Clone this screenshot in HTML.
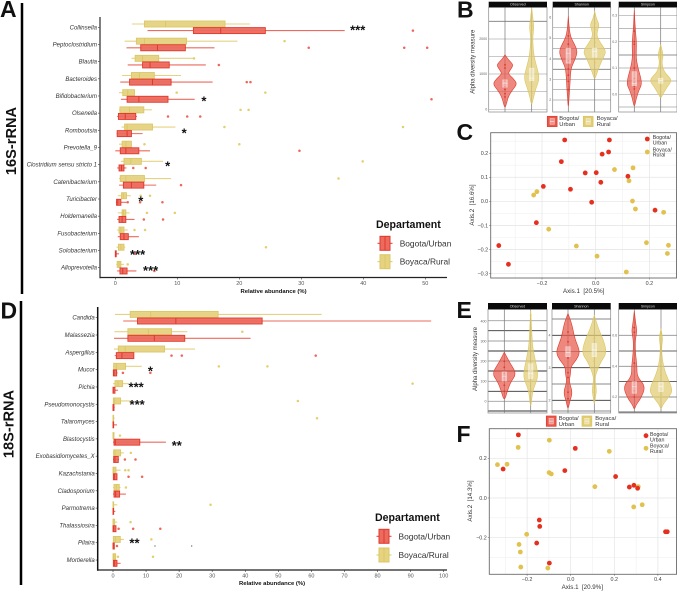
<!DOCTYPE html>
<html lang="en">
<head>
<meta charset="utf-8">
<title>Microbiome abundance and diversity figure</title>
<style>
html,body{margin:0;padding:0;background:#fff;width:677px;height:591px;overflow:hidden}
svg{display:block;font-family:"Liberation Sans",sans-serif}
text{fill:#333}
</style>
</head>
<body>
<svg id="fig" width="677" height="591" viewBox="0 0 677 591" xmlns="http://www.w3.org/2000/svg">
  <rect x="0" y="0" width="677" height="591" fill="#fff"/>
  <text x="0" y="17" font-size="23" font-weight="700" style="fill:#111">A</text>
  <text x="457" y="17.3" font-size="23" font-weight="700" style="fill:#111">B</text>
  <text x="456.5" y="140" font-size="23" font-weight="700" style="fill:#111">C</text>
  <text x="0.5" y="318.5" font-size="23" font-weight="700" style="fill:#111">D</text>
  <text x="456.5" y="318" font-size="23" font-weight="700" style="fill:#111">E</text>
  <text x="456.5" y="442" font-size="23" font-weight="700" style="fill:#111">F</text>
  <line x1="22" y1="3" x2="22" y2="294" stroke="#000" stroke-width="2.5"/>
  <line x1="21" y1="301" x2="21" y2="585" stroke="#000" stroke-width="2.5"/>
  <text transform="translate(16,141) rotate(-90)" text-anchor="middle" font-size="14.6" font-weight="700" style="fill:#111">16S-rRNA</text>
  <text transform="translate(13.5,424) rotate(-90)" text-anchor="middle" font-size="14.6" font-weight="700" style="fill:#111">18S-rRNA</text>
  <text x="273.5" y="293" text-anchor="middle" font-size="5.9" font-weight="700" style="fill:#111">Relative abundance (%)</text>
  <text x="272" y="585" text-anchor="middle" font-size="5.9" font-weight="700" style="fill:#111">Relative abundance (%)</text>
  <text x="376" y="228" font-size="10.6" font-weight="700" style="fill:#111">Departament</text>
  <text x="375" y="521" font-size="10.6" font-weight="700" style="fill:#111">Departament</text>
  <text transform="translate(474.5,61.7) rotate(-90)" text-anchor="middle" font-size="6">Alpha diversity measure</text>
  <text transform="translate(477,359) rotate(-90)" text-anchor="middle" font-size="6">Alpha diversity measure</text>
  <text x="583.7" y="293" text-anchor="middle" font-size="6.2" xml:space="preserve">Axis.1  [20.5%]</text>
  <text transform="translate(473.8,205) rotate(-90)" text-anchor="middle" font-size="6.2" xml:space="preserve">Axis.2  [16.6%]</text>
  <text x="582.3" y="589" text-anchor="middle" font-size="6.2" xml:space="preserve">Axis.1  [20.9%]</text>
  <text transform="translate(472,501) rotate(-90)" text-anchor="middle" font-size="6.2" xml:space="preserve">Axis.2  [14.3%]</text>
</svg>
<script>
/* ---------- Panel A data (16S, relative abundance %) ---------- */
const aCategories = ["Collinsella","Peptoclostridium","Blautia","Bacteroides","Bifidobacterium","Olsenella","Romboutsia","Prevotella_9","Clostridium sensu stricto 1","Catenibacterium","Turicibacter","Holdemanella","Fusobacterium","Solobacterium","Alloprevotella"];
const aTicks = [0,10,20,30,40,50];
/* each row: whisker low, q1, median, q3, whisker high */
const aUrbanStats = [[5.2,12.6,17,24.2,37],[1.8,4.1,6.8,11.3,16],[2,4.4,5.6,8.7,14.6],[0.8,2.3,6,9,15.7],[0.9,1.9,3.8,8.5,12.8],[0.3,0.5,1.6,3.3,3.5],[0.2,0.3,1.9,2.6,4.4],[0,0.8,1.7,3.8,5.6],[0.3,0.6,1,1.4,1.8],[0.6,1.3,2.6,4.6,6.6],[0.1,0.2,0.4,0.9,1.8],[0.3,0.6,1.1,1.7,3.1],[0.4,0.8,1.4,2.1,3.8],[0,0,0.05,0.15,0.6],[0.3,0.75,1.2,1.9,3.4]];
const aRuralStats = [[2.7,4.7,8.1,17.7,21.7],[1.5,3.4,4.7,11.5,19.7],[2.6,3.2,4.4,7,12.7],[1.1,2.6,3.9,6.3,10.6],[0.6,1.2,2,3.1,3.1],[0.6,0.75,2.3,4.6,5.9],[1,1.5,1.9,6,9.7],[0.6,1.1,1.7,2.6,2.6],[0.9,1.4,2.5,4.2,7.7],[0.6,0.8,1.7,4.7,9],[0.4,1,1.3,1.8,2.5],[0.4,1.1,1.3,1.7,2.3],[0.3,0.6,0.9,1.4,2],[0.2,0.5,0.9,1.4,1.6],[0.15,0.3,0.6,0.9,1.4]];
const aUrbanOutliers = [[48],[31.2,46.6,50.3],[16.7],[21.2,21.8],[51],[8.5,11.6,13.7],[],[29.7],[2.9,4.9],[10.6],[2,4,7.6],[4.6,7.7],[],[3.2],[6.3]];
const aRuralOutliers = [[],[27.3],[12.7],[],[9.9,24.2],[20.2,21.5],[17.6,46.4],[4.7,20],[39.9],[36],[4.1,5.6],[5.1,9.6],[3.1,4.8],[24.3],[2]];
const aStarLabels = ["***","*","*","*","*","***","***"];
const aStarRows = [0,4,6,8,10,13,14];
const aStarValues = [39.1,14.3,11.1,8.45,4.1,3.6,5.7];
const aStarSides = [0,0.6,0,-0.5,-0.3,0.4,0];

/* ---------- Panel D data (18S, relative abundance %) ---------- */
const dCategories = ["Candida","Malassezia","Aspergillus","Mucor","Pichia","Pseudomonocystis","Talaromyces","Blastocystis","Exobasidiomycetes_X","Kazachstania","Cladosporium","Parmotrema","Thalassiosira","Pilaira","Mortierella"];
const dTicks = [0,10,20,30,40,50,60,70,80,90,100];
const dUrbanStats = [[3.1,7.4,19,45.1,96.2],[0.3,4.5,12.5,21.7,41.6],[0.5,1,2.7,6.3,6.3],[0,0.1,0.3,1.1,1.4],[0,0,0.1,0.6,1.5],[0,0,0,0.3,0.5],[0,0,0.1,0.2,1.2],[0,0.3,0.7,8.1,16],[0,0.2,0.6,1.6,1.8],[0,0.1,0.4,1.2,1.2],[0,0.3,0.8,2,3.9],[0,0,0.1,0.2,0.7],[0,0,0.2,0.9,0.9],[0,0,0.1,0.4,0.4],[0,0.1,0.5,1.2,2.3]];
const dRuralStats = [[0.6,5.2,11.4,31.8,63.1],[0.4,4.5,10.7,17.7,22.5],[0.3,1.6,3.7,15.6,24.8],[0,0.2,1,3.8,8.7],[0,0.6,1.5,2.9,4.8],[0,0.1,0.5,2.3,5.4],[0,0,0.1,0.2,0.5],[0,0,0.1,0.3,0.4],[0,0.2,0.6,2.3,3.3],[0,0,0.2,0.9,2.3],[0,0.3,1,1.9,2.3],[0,0,0.1,0.2,1.3],[0,0,0.1,0.5,1.3],[0,0.1,0.7,2.2,3.3],[0,0,0.3,0.8,0.8]];
const dUrbanOutliers = [[],[],[17.7,20.8,61.3],[3,11.3],[],[],[],[],[3.6,6.8],[4.7,8.8],[],[],[1.7,6.1,14.3],[1.2],[]];
const dRuralOutliers = [[],[39.1],[],[32,46.7],[90.6],[55.9],[61.7],[2.1],[5.4],[3.7,4.7],[3.9],[29.5],[5.3],[11.6],[1.5,12.1]];
const dStrayValues = [12.7,23.8];
const dStarLabels = ["*","***","***","**","**"];
const dStarRows = [3,4,5,7,13];
const dStarValues = [11.3,7,7.3,19.3,6.5];
const dStarSides = [-0.5,-0.9,-0.7,1.2,-0.8];

/* ---------- Panel B violins (16S alpha diversity) ---------- */
const bObsTicks = [0,1000,2000];
const bShaTicks = [2,3,4,5,6];
const bSimTicks = [0,0.1,0.2,0.3];
const bObsUrbanLevels = [1545,1403,1260,1118,1005,882,720,550,360,170,28];
const bObsUrbanDensity = [0,0.27,0.7,0.43,0.24,0.65,1,0.6,0.27,0.13,0];
const bObsUrbanBox = [626,739,834];
const bObsUrbanPoints = [1260,1170,800,720,640,560,440,350];
const bObsRuralLevels = [2872,2540,2303,2066,1782,1498,1213,882,597,360,95];
const bObsRuralDensity = [0,0.11,0.19,0.08,0.11,0.19,0.4,0.65,0.35,0.16,0];
const bObsRuralBox = [806,882,1166];
const bObsRuralPoints = [2370,2240,1500,1120,880,800,650,440];
const bShaUrbanLevels = [6.05,5.4,5,4.75,4.35,3.95,3.54,3.05,2.5,2,1.6];
const bShaUrbanDensity = [0,0.08,0.22,0.46,0.76,0.54,0.22,0.16,0.11,0.05,0];
const bShaUrbanBox = [3.78,4.27,4.51];
const bShaUrbanPoints = [5.1,4.7,4.3,3.9,3.5,3.2,2.9,2.5];
const bShaRuralLevels = [6.3,5.97,5.64,5.4,5.08,4.75,4.35,4.03,3.54,3.21,3];
const bShaRuralDensity = [0,0.11,0.38,0.24,0.16,0.49,0.95,0.68,0.32,0.14,0];
const bShaRuralBox = [4.07,4.35,4.51];
const bShaRuralPoints = [5.7,5.4,4.8,4.5,4.3,4,3.8,3.4];
const bSimUrbanLevels = [0.32,0.245,0.195,0.143,0.105,0.042,0.016,-0.015,-0.053];
const bSimUrbanDensity = [0,0.08,0.19,0.14,0.27,0.65,0.38,0.16,0];
const bSimUrbanBox = [0.032,0.042,0.086];
const bSimUrbanPoints = [0.24,0.2,0.19,0.1,0.06,0.045,0.03,0.02];
const bSimRuralLevels = [0.188,0.15,0.124,0.086,0.054,0.029,-0.003,-0.015];
const bSimRuralDensity = [0,0.24,0.08,0.24,0.95,0.54,0.14,0];
const bSimRuralBox = [0.042,0.052,0.061];
const bSimRuralPoints = [0.16,0.15,0.14,0.07,0.055,0.045,0.03,0.01];

/* ---------- Panel E violins (18S alpha diversity) ---------- */
const eObsTicks = [0,100,200,300,400];
const eShaTicks = [2,3,4];
const eSimTicks = [0.2,0.4,0.6];
const eObsUrbanLevels = [246,197,139,98,56,-2];
const eObsUrbanDensity = [0,0.4,1,0.54,0.27,0];
const eObsUrbanBox = [101,122,147];
const eObsUrbanPoints = [200,170,140,120,100,80,50];
const eObsRuralLevels = [453,362,279,221,131,89,48,-43];
const eObsRuralDensity = [0,0.08,0.14,0.32,0.62,0.4,0.14,0];
const eObsRuralBox = [114,139,188];
const eObsRuralPoints = [430,330,190,150,130,100,60];
const eShaUrbanLevels = [4.67,4.36,3.9,3.49,3.24,3.03,2.83,2.57,2.25,1.96,1.7];
const eShaUrbanDensity = [0,0.32,0.54,1,0.68,0.22,0.22,0.08,0.38,0.14,0];
const eShaUrbanBox = [3.34,3.47,3.65];
const eShaUrbanPoints = [4.1,3.8,3.5,3.3,2.85,2.7,2.25,2.05];
const eShaRuralLevels = [4.62,4.21,3.8,3.44,3.19,2.83,2.63,2.32,2.06,1.86];
const eShaRuralDensity = [0,0.32,0.81,1,0.54,0.14,0.05,0.19,0.08,0];
const eShaRuralBox = [3.34,3.55,3.75];
const eShaRuralPoints = [3.9,3.6,3.4,3.2,2.4,2.25];
const eSimUrbanLevels = [0.757,0.68,0.626,0.572,0.496,0.398,0.333,0.268,0.192,0.148,0.116];
const eSimUrbanDensity = [0,0.11,0.22,0.08,0.08,0.22,0.22,0.92,0.54,0.14,0];
const eSimUrbanBox = [0.224,0.267,0.3];
const eSimUrbanPoints = [0.65,0.62,0.42,0.3,0.27,0.24,0.2];
const eSimRuralLevels = [0.644,0.578,0.535,0.457,0.359,0.248,0.204,0.15,0.116];
const eSimRuralDensity = [0,0.16,0.05,0.08,0.32,0.97,0.68,0.14,0];
const eSimRuralBox = [0.235,0.267,0.296];
const eSimRuralPoints = [0.6,0.58,0.34,0.28,0.25,0.2];

/* ---------- Panel C ordination (16S) ---------- */
const cXTicks = [-0.2,0,0.2];
const cYTicks = [-0.3,-0.2,-0.1,0,0.1,0.2];
const cUrbanX = [-0.1155,0.051,0.024,0.048,-0.128,-0.039,0.002,0.019,0.12,-0.195,-0.094,-0.015,0.221,-0.221,-0.361,-0.325];
const cUrbanY = [0.255,0.255,0.196,0.205,0.165,0.118,0.119,0.079,0.104,0.062,0.05,-0.004,-0.037,-0.089,-0.184,-0.262];
const cRuralX = [0.07,0.139,0.124,-0.219,-0.231,0.137,0.148,0.253,-0.175,-0.072,0.005,0.114,0.189,0.271,0.267];
const cRuralY = [0.132,0.139,0.085,0.04,0.026,0.001,-0.032,-0.046,-0.116,-0.186,-0.228,-0.294,-0.172,-0.183,-0.217];

/* ---------- Panel F ordination (18S) ---------- */
const fXTicks = [-0.2,0,0.2,0.4];
const fYTicks = [-0.2,0,0.2];
const fUrbanX = [-0.24,0.021,-0.31,-0.027,0.206,0.269,0.29,0.307,-0.144,-0.142,-0.156,-0.098,0.435,0.443];
const fUrbanY = [0.318,0.25,0.146,0.138,0.108,0.055,0.064,0.049,-0.111,-0.143,-0.227,-0.328,-0.17,-0.17];
const fRuralX = [-0.098,-0.241,0.177,-0.336,-0.292,-0.099,-0.089,0.111,0.31,0.328,0.289,-0.202,-0.237,-0.231,-0.229,-0.105];
const fRuralY = [0.291,0.255,0.235,0.168,0.17,0.128,0.121,0.057,0.057,-0.034,-0.045,-0.183,-0.234,-0.272,-0.348,-0.353];

/* ---------- helpers ---------- */
const SVGNS = "http://www.w3.org/2000/svg";
const fig = document.getElementById("fig");
const RED = "#e0392c", RED_FILL = "#ec6a5e", YEL = "#dcc766", YEL_FILL = "#e5d382";

function mk(tag, attrs, parent, txt) {
  const n = document.createElementNS(SVGNS, tag);
  for (const k in attrs) n.setAttribute(k, attrs[k]);
  if (txt !== undefined) n.textContent = txt;
  (parent || fig).appendChild(n);
  return n;
}
function linear(d0, d1, r0, r1) {
  return v => r0 + (v - d0) * (r1 - r0) / (d1 - d0);
}
function slug(s) {
  return s.toLowerCase().replace(/[^a-z0-9]+/g, "-").replace(/^-|-$/g, "");
}

/* ---------- horizontal box plots (A and D) ---------- */
function drawBoxGroup(g, cat, y, stats, outliers, stroke, fill, group, xs) {
  const lo = xs(stats[0]), q1 = xs(stats[1]), med = xs(stats[2]), q3 = xs(stats[3]), hi = xs(stats[4]);
  const w = mk("line", {x1: lo, x2: hi, y1: y, y2: y, stroke: fill, "stroke-width": 1.1}, g);
  
  
  const b = mk("rect", {x: q1, y: y - 3, width: Math.max(q3 - q1, 0.6), height: 6, fill: fill, stroke: stroke, "stroke-width": 0.9, "fill-opacity": 0.95}, g);
  
  
  const m = mk("line", {x1: med, x2: med, y1: y - 3, y2: y + 3, stroke: stroke, "stroke-width": 1}, g);
  
  
  outliers.forEach(v => {
    const c = mk("circle", {cx: xs(v), cy: y, r: 1.25, fill: group === "urban" ? "#ee6558" : "#e3cf6e"}, g);
    
    
  });
}
function drawBoxPanel(o) {
  const g = mk("g", {}, fig);
  
  
  const xs = linear(0, 10, o.x0, o.x10);
  const ys = i => o.yTop + i * o.rowStep;
  o.categories.forEach((cat, i) => {
    const y = ys(i);
    drawBoxGroup(g, cat, y - 3.3, o.rural[i], o.ruralOut[i], YEL, YEL_FILL, "rural", xs);
    drawBoxGroup(g, cat, y + 3.3, o.urban[i], o.urbanOut[i], RED, RED_FILL, "urban", xs);
    const lab = mk("text", {x: o.axisX - 3, y: y + 2, "text-anchor": "end", "font-size": 6, "font-style": "italic"}, g, cat);
    
    
    const t = mk("line", {x1: o.axisX - 2, x2: o.axisX, y1: y, y2: y, stroke: "#333", "stroke-width": 0.6}, g);
    
    
  });
  const ya = mk("line", {x1: o.axisX, x2: o.axisX, y1: o.axisTop, y2: o.axisBottom + 0.75, stroke: o.yColor, "stroke-width": 1.5}, g);
  
  
  const xa = mk("line", {x1: o.axisX, x2: 447, y1: o.axisBottom, y2: o.axisBottom, stroke: "#222", "stroke-width": 1.3}, g);
  
  
  o.ticks.forEach(v => {
    const t = mk("line", {x1: xs(v), x2: xs(v), y1: o.axisBottom, y2: o.axisBottom + 2, stroke: "#333", "stroke-width": 0.6}, g);
    
    
    const l = mk("text", {x: xs(v), y: o.axisBottom + 7.5, "text-anchor": "middle", "font-size": 5.5, style: "fill:#555"}, g, String(v));
    
    
  });
  o.starLabels.forEach((s, i) => {
    const st = mk("text", {x: xs(o.starValues[i]), y: ys(o.starRows[i]) + o.starSides[i] * 3.3 + 7.3, "text-anchor": "middle", "font-size": 13, "font-weight": 700, style: "fill:#111"}, g, s);
    
    
  });
  return {xs, ys, g};
}
drawBoxPanel({name: "abundance-chart-16s", categories: aCategories, urban: aUrbanStats, rural: aRuralStats, urbanOut: aUrbanOutliers, ruralOut: aRuralOutliers, ticks: aTicks, starLabels: aStarLabels, starRows: aStarRows, starValues: aStarValues, starSides: aStarSides, x0: 115.3, x10: 177.3, yTop: 27.3, rowStep: 17.17, axisX: 100, axisTop: 17, axisBottom: 277.5, yColor: "#555"});
const dInfo = drawBoxPanel({name: "abundance-chart-18s", categories: dCategories, urban: dUrbanStats, rural: dRuralStats, urbanOut: dUrbanOutliers, ruralOut: dRuralOutliers, ticks: dTicks, starLabels: dStarLabels, starRows: dStarRows, starValues: dStarValues, starSides: dStarSides, x0: 113, x10: 146.07, yTop: 317.7, rowStep: 17.31, axisX: 97.7, axisTop: 307, axisBottom: 570, yColor: "#111"});
dStrayValues.forEach(v => {
  const c = mk("circle", {cx: dInfo.xs(v), cy: dInfo.ys(13) + 3.3, r: 0.6, fill: "#444"}, dInfo.g);
  
  
});

/* ---------- box legends ---------- */
function drawBoxKey(name, cx, cy, stroke, fill, label, textX) {
  const k = mk("g", {}, fig);
  
  
  mk("line", {x1: cx - 7.5, x2: cx + 7.5, y1: cy, y2: cy, stroke: stroke, "stroke-width": 1}, k);
  mk("rect", {x: cx - 5, y: cy - 7, width: 10, height: 14, fill: fill, stroke: stroke, "stroke-width": 1}, k);
  mk("line", {x1: cx, x2: cx, y1: cy - 7, y2: cy + 7, stroke: stroke, "stroke-width": 1}, k);
  mk("text", {x: textX, y: cy + 3, "font-size": 8.4}, k, label);
}
drawBoxKey("legend-entry-urban-16s", 385, 243.3, RED, RED_FILL, "Bogota/Urban", 399.7);
drawBoxKey("legend-entry-rural-16s", 385, 261.7, YEL, YEL_FILL, "Boyaca/Rural", 399.7);
drawBoxKey("legend-entry-urban-18s", 384, 536.3, RED, RED_FILL, "Bogota/Urban", 398.5);
drawBoxKey("legend-entry-rural-18s", 384, 555, YEL, YEL_FILL, "Boyaca/Rural", 398.5);

/* ---------- violin panels (B and E) ---------- */
function smoothClosed(pts) {
  let d = "M" + pts[0][0] + " " + pts[0][1];
  for (let i = 1; i < pts.length - 1; i++) {
    const mx = (pts[i][0] + pts[i + 1][0]) / 2;
    const my = (pts[i][1] + pts[i + 1][1]) / 2;
    d += "Q" + pts[i][0] + " " + pts[i][1] + " " + mx + " " + my;
  }
  const last = pts[pts.length - 1];
  return d + "L" + last[0] + " " + last[1] + "Z";
}
function drawViolin(g, cx, ys, levels, density, box, points, stroke, fill, maxHalf, name) {
  const right = levels.map((v, i) => [cx + density[i] * maxHalf, ys(v)]);
  const left = levels.map((v, i) => [cx - density[i] * maxHalf, ys(v)]).reverse();
  const outline = right.concat(left.slice(1));
  const p = mk("path", {d: smoothClosed(outline), fill: fill, "fill-opacity": 0.72, stroke: stroke, "stroke-width": 0.6, "stroke-linejoin": "round"}, g);
  
  
  points.forEach(v => {
    const c = mk("circle", {cx: cx, cy: ys(v), r: 0.9, fill: stroke}, g);
    
    
  });
  const b = mk("rect", {x: cx - 2.3, y: ys(box[2]), width: 4.6, height: ys(box[0]) - ys(box[2]), fill: "#fff", "fill-opacity": 0.45, stroke: "#fff", "stroke-opacity": 0.6, "stroke-width": 0.5}, g);
  
  
  const m = mk("line", {x1: cx - 2.3, x2: cx + 2.3, y1: ys(box[1]), y2: ys(box[1]), stroke: "#fff", "stroke-opacity": 0.8, "stroke-width": 0.6}, g);
  
  
}
function drawFacet(o) {
  const g = mk("g", {}, fig);
  
  
  const ys = linear(o.d0, o.d1, o.r0, o.r1);
  o.grid.forEach(line => {
    const y = line[0];
    const h = mk("line", {x1: o.x0, x2: o.x1, y1: y, y2: y, stroke: line[1], "stroke-width": line[2]}, g);
    
    
  });
  [o.cx1, o.cx2].forEach(cx => {
    const v = mk("line", {x1: cx, x2: cx, y1: o.top, y2: o.bottom, stroke: "#777", "stroke-width": 0.7}, g);
    
    
  });
  const br = mk("rect", {x: o.x0, y: o.top, width: o.x1 - o.x0, height: o.bottom - o.top, fill: "none", stroke: "#888", "stroke-width": 0.7}, g);
  
  
  const s = mk("rect", {x: o.x0, y: o.stripTop, width: o.x1 - o.x0, height: o.top - o.stripTop, fill: "#0a0a0a"}, g);
  
  
  const st = mk("text", {x: (o.x0 + o.x1) / 2, y: (o.top + o.stripTop) / 2 + 1.2, "text-anchor": "middle", "font-size": 3.6, style: "fill:#ddd"}, g, o.title);
  
  
  o.ticks.forEach(v => {
    const l = mk("text", {x: o.x0 - 1.5, y: ys(v) + 1.2, "text-anchor": "end", "font-size": 3.6, style: "fill:#666"}, g, String(v === 0 && o.decimal ? "0.0" : v));
    
    
  });
  drawViolin(g, o.cx1, ys, o.u[0], o.u[1], o.u[2], o.u[3], "#dd3a2c", "#e8594c", o.scale, o.name + "-urban");
  drawViolin(g, o.cx2, ys, o.r[0], o.r[1], o.r[2], o.r[3], "#dcc65f", "#e0cc72", o.scale, o.name + "-rural");
}
const G1 = "#b5b5b5", G2 = "#7a7a7a", G3 = "#333";
function lines(vals, color, width) { return vals.map(v => [v, color, width]); }
drawFacet({name: "observed-16s", title: "Observed", x0: 488.7, x1: 547, top: 7.3, stripTop: 1.7, bottom: 112, cx1: 505, cx2: 531.7, d0: 0, d1: 1000, r0: 109.3, r1: 74, ticks: bObsTicks, scale: 12.3,
  grid: lines([39,74,91.6,56.6,109.3], G1, 0.7).concat(lines([21.3], G2, 0.9)),
  u: [bObsUrbanLevels, bObsUrbanDensity, bObsUrbanBox, bObsUrbanPoints], r: [bObsRuralLevels, bObsRuralDensity, bObsRuralBox, bObsRuralPoints]});
drawFacet({name: "shannon-16s", title: "Shannon", x0: 552.7, x1: 610.7, top: 7.3, stripTop: 1.7, bottom: 112, cx1: 568.3, cx2: 594.7, d0: 2, d1: 6, r0: 100, r1: 17.3, ticks: bShaTicks, scale: 12.3,
  grid: lines([27.7,38.3,48.6,79.3,89.6,100], "#a5a5a5", 0.7).concat(lines([59], "#8a8a8a", 1.1), lines([69.3], G2, 0.9)),
  u: [bShaUrbanLevels, bShaUrbanDensity, bShaUrbanBox, bShaUrbanPoints], r: [bShaRuralLevels, bShaRuralDensity, bShaRuralBox, bShaRuralPoints]});
drawFacet({name: "simpson-16s", title: "Simpson", x0: 618.7, x1: 677, top: 7.3, stripTop: 1.7, bottom: 112, cx1: 634.3, cx2: 660.7, d0: 0, d1: 0.3, r0: 94.3, r1: 15.3, decimal: true, ticks: bSimTicks, scale: 12.3,
  grid: lines([15.3,28.5,41.7,68,81,94.3,107], "#a5a5a5", 0.7).concat(lines([55], G1, 1.6)),
  u: [bSimUrbanLevels, bSimUrbanDensity, bSimUrbanBox, bSimUrbanPoints], r: [bSimRuralLevels, bSimRuralDensity, bSimRuralBox, bSimRuralPoints]});
drawFacet({name: "observed-18s", title: "Observed", x0: 488, x1: 547, top: 309.3, stripTop: 303, bottom: 413, cx1: 504.3, cx2: 530.7, d0: 0, d1: 100, r0: 401.3, r1: 381.3, ticks: eObsTicks, scale: 12.3,
  grid: lines([320.7,341,361,381.3,401.3], "#a0a0a0", 0.9).concat(lines([330.7,351,371,391.3,411], G3, 0.9)),
  u: [eObsUrbanLevels, eObsUrbanDensity, eObsUrbanBox, eObsUrbanPoints], r: [eObsRuralLevels, eObsRuralDensity, eObsRuralBox, eObsRuralPoints]});
drawFacet({name: "shannon-18s", title: "Shannon", x0: 552, x1: 610.7, top: 309.3, stripTop: 303, bottom: 413, cx1: 568, cx2: 594.3, d0: 2, d1: 4, r0: 400.3, r1: 335.3, ticks: eShaTicks, scale: 12.3,
  grid: lines([335.3,367.7,400.3], G3, 0.8).concat(lines([319,351.5,384,411], "#8a8a8a", 0.9)),
  u: [eShaUrbanLevels, eShaUrbanDensity, eShaUrbanBox, eShaUrbanPoints], r: [eShaRuralLevels, eShaRuralDensity, eShaRuralBox, eShaRuralPoints]});
drawFacet({name: "simpson-18s", title: "Simpson", x0: 618.7, x1: 677, top: 309.3, stripTop: 303, bottom: 413, cx1: 634.3, cx2: 661, d0: 0.2, d1: 0.6, r0: 397, r1: 335.3, ticks: eSimTicks, scale: 12.3,
  grid: lines([335.3,366.3,397], "#8f8f8f", 0.9).concat(lines([351,381.5,412], G3, 0.8)),
  u: [eSimUrbanLevels, eSimUrbanDensity, eSimUrbanBox, eSimUrbanPoints], r: [eSimRuralLevels, eSimRuralDensity, eSimRuralBox, eSimRuralPoints]});

/* ---------- shared violin legends ---------- */
function drawViolinKey(name, x, y, stroke, fill, l1, l2, textX) {
  const k = mk("g", {}, fig);
  
  
  mk("rect", {x: x, y: y, width: 9.8, height: 10.3, fill: fill, stroke: stroke, "stroke-width": 0.7}, k);
  mk("rect", {x: x + 2.7, y: y + 2.2, width: 4.4, height: 5.8, fill: "#fff", "fill-opacity": 0.35, stroke: "#fff", "stroke-opacity": 0.7, "stroke-width": 0.5}, k);
  mk("line", {x1: x + 2.7, x2: x + 7.1, y1: y + 5.1, y2: y + 5.1, stroke: "#fff", "stroke-width": 0.5}, k);
  mk("text", {x: textX, y: y + 3.9, "font-size": 5.8}, k, l1);
  mk("text", {x: textX, y: y + 9.9, "font-size": 5.8}, k, l2);
}
drawViolinKey("legend-entry-urban-alpha-16s", 547.3, 116.3, "#e0392c", "#e8594c", "Bogota/", "Urban", 559.3);
drawViolinKey("legend-entry-rural-alpha-16s", 583.3, 116.3, "#dcc65f", "#e0cc72", "Boyaca/", "Rural", 596.7);
drawViolinKey("legend-entry-urban-alpha-18s", 546.3, 416, "#e0392c", "#e8594c", "Bogota/", "Urban", 558.7);
drawViolinKey("legend-entry-rural-alpha-18s", 582, 416, "#dcc65f", "#e0cc72", "Boyaca/", "Rural", 595.3);

/* ---------- ordination scatter panels (C and F) ---------- */
function fmt(v) { return (v < 0 ? "\u2212" : "") + Math.abs(v).toFixed(1); }
function drawScatter(o) {
  const g = mk("g", {}, fig);
  
  
  const xs = linear(0, 0.2, o.x0v, o.x02v);
  const ys = linear(0, 0.2, o.y0v, o.y02v);
  const ym = o.yTicks.concat([]);
  const yStep = ym[1] - ym[0], xStep = o.xTicks[1] - o.xTicks[0];
  for (let v = ym[0] - yStep * 0.5; v <= ym[ym.length - 1] + yStep * 0.5 + 1e-9; v += yStep) {
    const gy = ys(v);
    if (gy > o.top && gy < o.bottom) {
      const n = mk("line", {x1: o.left, x2: o.right, y1: gy, y2: gy, stroke: "#f0f0f0", "stroke-width": 0.6}, g);
      
      
    }
  }
  for (let v = o.xTicks[0] - xStep * 1.5; v <= o.xTicks[o.xTicks.length - 1] + xStep * 1.5 + 1e-9; v += xStep) {
    const gx = xs(v);
    if (gx > o.left && gx < o.right) {
      const n = mk("line", {x1: gx, x2: gx, y1: o.top, y2: o.bottom, stroke: "#f0f0f0", "stroke-width": 0.6}, g);
      
      
    }
  }
  o.yTicks.forEach(v => {
    const h = mk("line", {x1: o.left, x2: o.right, y1: ys(v), y2: ys(v), stroke: "#e4e4e4", "stroke-width": 0.7}, g);
    
    
    const t = mk("line", {x1: o.left - 1.5, x2: o.left, y1: ys(v), y2: ys(v), stroke: "#555", "stroke-width": 0.5}, g);
    
    
    const l = mk("text", {x: o.left - 2.5, y: ys(v) + 1.9, "text-anchor": "end", "font-size": 5.4, style: "fill:#444"}, g, fmt(v));
    
    
  });
  o.xTicks.forEach(v => {
    const h = mk("line", {x1: xs(v), x2: xs(v), y1: o.top, y2: o.bottom, stroke: "#e4e4e4", "stroke-width": 0.7}, g);
    
    
    const t = mk("line", {x1: xs(v), x2: xs(v), y1: o.bottom, y2: o.bottom + 1.5, stroke: "#555", "stroke-width": 0.5}, g);
    
    
    const l = mk("text", {x: xs(v), y: o.bottom + 6.8, "text-anchor": "middle", "font-size": 5.4, style: "fill:#444"}, g, fmt(v));
    
    
  });
  const b = mk("rect", {x: o.left, y: o.top, width: o.right - o.left, height: o.bottom - o.top, fill: "none", stroke: "#6b6b6b", "stroke-width": 0.9}, g);
  
  
  o.ruralX.forEach((x, i) => {
    const c = mk("circle", {cx: xs(x), cy: ys(o.ruralY[i]), r: 2.4, fill: "#e1c24e"}, g);
    
    
  });
  o.urbanX.forEach((x, i) => {
    const c = mk("circle", {cx: xs(x), cy: ys(o.urbanY[i]), r: 2.4, fill: "#e5301f"}, g);
    
    
  });
  const lg = mk("g", {}, g);
  
  
  const d1 = mk("circle", {cx: o.lgDot, cy: o.lgY1, r: 2.4, fill: "#e5301f"}, lg);
  
  
  const d2 = mk("circle", {cx: o.lgDot, cy: o.lgY2, r: 2.4, fill: "#e1c24e"}, lg);
  
  
  const t1 = mk("text", {x: o.lgText, y: o.lgY1 + 0.1, "font-size": 5.3}, lg, "Bogota/");
  
  
  const t2 = mk("text", {x: o.lgText, y: o.lgY1 + 5.6, "font-size": 5.3}, lg, "Urban");
  
  
  const t3 = mk("text", {x: o.lgText, y: o.lgY2 - 0.7, "font-size": 5.3}, lg, "Boyaca/");
  
  
  const t4 = mk("text", {x: o.lgText, y: o.lgY2 + 4.7, "font-size": 5.3}, lg, "Rural");
  
  
}
drawScatter({name: "ordination-16s", left: 490.7, right: 676.5, top: 132.7, bottom: 278, x0v: 595.7, x02v: 649.4, y0v: 201.3, y02v: 153.2, xTicks: cXTicks, yTicks: cYTicks, urbanX: cUrbanX, urbanY: cUrbanY, ruralX: cRuralX, ruralY: cRuralY, lgDot: 647.3, lgY1: 139, lgY2: 152, lgText: 652.7});
drawScatter({name: "ordination-18s", left: 489.3, right: 676.5, top: 428.7, bottom: 574.3, x0v: 570.7, x02v: 614.3, y0v: 498, y02v: 458.3, xTicks: fXTicks, yTicks: fYTicks, urbanX: fUrbanX, urbanY: fUrbanY, ruralX: fRuralX, ruralY: fRuralY, lgDot: 646, lgY1: 435.7, lgY2: 448.3, lgText: 650});
</script>
</body>
</html>
